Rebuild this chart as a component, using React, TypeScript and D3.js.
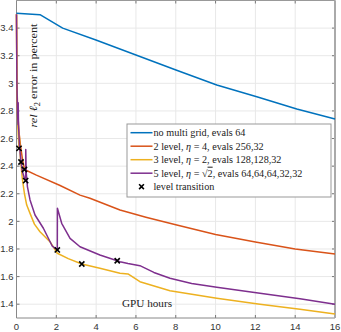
import * as d3 from "d3";

// GPU hours vs rel l2 error
const noMgX = [0, 1.18, 2.32, 3.99, 6.0, 8.01, 10.06, 12.07, 14.08, 16];
const noMgY = [3.507, 3.497, 3.4, 3.314, 3.205, 3.097, 2.988, 2.903, 2.814, 2.741];

const lvl2X = [0, 0.02, 0.06, 0.12, 0.2, 0.3, 0.4, 1.0, 2.19, 3.19, 3.69, 5.2, 6.5, 8, 10, 12, 14, 16];
const lvl2Y = [3.5, 3.0, 2.8, 2.65, 2.55, 2.45, 2.376, 2.335, 2.26, 2.19, 2.167, 2.082, 2.03, 1.975, 1.905, 1.85, 1.8, 1.763];

const lvl3X = [0, 0.02, 0.05, 0.09, 0.126, 0.13, 0.2, 0.3, 0.4, 0.51, 0.68, 0.9, 1.18, 1.68, 2.05, 2.6, 3.28, 4.19, 5.2, 5.6, 6.2, 7.71, 10.06, 12.23, 14.24, 16];
const lvl3Y = [3.5, 3.0, 2.75, 2.62, 2.529, 2.65, 2.45, 2.3, 2.2, 2.12, 2.058, 1.98, 1.925, 1.853, 1.769, 1.73, 1.691, 1.66, 1.624, 1.619, 1.563, 1.498, 1.443, 1.399, 1.363, 1.329];

const lvl5X = [0, 0.02, 0.05, 0.08, 0.085, 0.1, 0.15, 0.226, 0.3, 0.4, 0.46, 0.465, 0.49, 0.55, 0.68, 0.93, 1.35, 1.8, 2.05, 2.055, 2.27, 2.69, 3.19, 4.19, 5.06, 5.2, 5.6, 6.2, 6.9, 7.71, 8.8, 10.06, 12.23, 14.24, 16];
const lvl5Y = [3.5, 3.0, 2.78, 2.7, 2.86, 2.7, 2.55, 2.43, 2.36, 2.31, 2.295, 2.52, 2.35, 2.25, 2.155, 2.046, 1.95, 1.82, 1.793, 2.095, 1.986, 1.877, 1.816, 1.756, 1.715, 1.708, 1.695, 1.679, 1.63, 1.588, 1.55, 1.522, 1.479, 1.44, 1.4];

const transX = [0.126, 0.226, 0.4, 0.46, 2.05, 3.28, 5.06];
const transY = [2.529, 2.43, 2.376, 2.295, 1.793, 1.691, 1.715];

const xTicks = [0, 2, 4, 6, 8, 10, 12, 14, 16];
const yTicks = [1.4, 1.6, 1.8, 2, 2.2, 2.4, 2.6, 2.8, 3, 3.2, 3.4];

const legendLabels = [
  "no multi grid, evals 64",
  "2 level, η = 4, evals 256,32",
  "3 level, η = 2, evals 128,128,32",
  "5 level, η = √2, evals 64,64,64,32,32",
  "level transition",
];

const colors = ["#0072BD", "#D95319", "#EDB120", "#7E2F8E"];

export default function App() {
  const W = 341;
  const H = 332;
  const left = 16.5;
  const right = 335;
  const top = 0.5;
  const bottom = 318;

  const x = d3.scaleLinear().domain([0, 16]).range([left, right]);
  const y = d3.scaleLinear().domain([1.3, 3.6]).range([bottom, top]);

  const line = d3
    .line<[number, number]>()
    .x((d) => x(d[0]))
    .y((d) => y(d[1]));

  const series = [
    [noMgX, noMgY],
    [lvl2X, lvl2Y],
    [lvl3X, lvl3Y],
    [lvl5X, lvl5Y],
  ].map(([xs, ys]) => xs.map((v, i) => [v, ys[i]] as [number, number]));

  const tickFont = { fontFamily: "Liberation Sans, Arial, sans-serif", fontSize: 9.5, fill: "#333" };
  const serif = "Liberation Serif, Times New Roman, serif";

  const cross = (cx: number, cy: number, r: number, key: any) => (
    <path
      key={key}
      d={`M${cx - r},${cy - r}L${cx + r},${cy + r}M${cx - r},${cy + r}L${cx + r},${cy - r}`}
      stroke="#000"
      strokeWidth={1.6}
    />
  );

  const legX = 127;
  const legY = 124;
  const legRowY = (i: number) => 132.7 + i * 13.5;

  return (
    <svg width={W} height={H} style={{ position: "absolute", left: 0, top: 0, background: "#fff" }}>
      {/* grid */}
      {xTicks.map((t) => (
        <line key={"gx" + t} x1={x(t)} x2={x(t)} y1={top} y2={bottom} stroke="#e8e8e8" strokeWidth={1} />
      ))}
      {yTicks.map((t) => (
        <line key={"gy" + t} x1={left} x2={right} y1={y(t)} y2={y(t)} stroke="#e8e8e8" strokeWidth={1} />
      ))}
      {/* ticks */}
      {xTicks.map((t) => (
        <g key={"tx" + t}>
          <line x1={x(t)} x2={x(t)} y1={bottom} y2={bottom - 3} stroke="#777" />
          <line x1={x(t)} x2={x(t)} y1={top} y2={top + 3} stroke="#777" />
          <text x={x(t)} y={330} textAnchor="middle" {...tickFont}>
            {t}
          </text>
        </g>
      ))}
      {yTicks.map((t) => (
        <g key={"ty" + t}>
          <line x1={left} x2={left + 3} y1={y(t)} y2={y(t)} stroke="#777" />
          <line x1={right} x2={right - 3} y1={y(t)} y2={y(t)} stroke="#777" />
          <text x={13.5} y={y(t) + 3.3} textAnchor="end" {...tickFont}>
            {String(+t.toFixed(1))}
          </text>
        </g>
      ))}
      {/* box */}
      <line x1={left} x2={left} y1={top} y2={bottom} stroke="#888" strokeWidth={1} />
      <line x1={left} x2={right} y1={bottom} y2={bottom} stroke="#888" strokeWidth={1} />
      <line x1={left} x2={right} y1={top} y2={top} stroke="#999" strokeWidth={1} />
      <line x1={right} x2={right} y1={top} y2={bottom} stroke="#aaa" strokeWidth={2} />

      {/* axis labels */}
      <text
        transform="translate(37,75.5) rotate(-90)"
        textAnchor="middle"
        fontFamily={serif}
        fontSize={11}
        fill="#222"
        textLength={104}
        lengthAdjust="spacingAndGlyphs"
      >
        <tspan fontStyle="italic">rel ℓ</tspan>
        <tspan fontSize={7.5} dy={2.5}>2</tspan>
        <tspan dy={-2.5}> error in percent</tspan>
      </text>
      <text x={122} y={307} fontFamily={serif} fontSize={11} fill="#222" textLength={50} lengthAdjust="spacingAndGlyphs">
        GPU hours
      </text>

      {/* curves */}
      {series.map((s, i) => (
        <path key={"s" + i} d={line(s) ?? ""} fill="none" stroke={colors[i]} strokeWidth={1.5} strokeLinejoin="round" />
      ))}
      {transX.map((v, i) => cross(x(v), y(transY[i]), 2.6, "m" + i))}

      {/* legend */}
      <rect x={legX} y={legY} width={204} height={73} fill="#fff" stroke="#999" strokeWidth={1} />
      {legendLabels.map((lab, i) => (
        <g key={"l" + i}>
          {i < 4 ? (
            <line x1={130.5} x2={152.5} y1={legRowY(i)} y2={legRowY(i)} stroke={colors[i]} strokeWidth={1.5} />
          ) : (
            cross(141.5, legRowY(i), 2.4, "lx")
          )}
          <text x={153.5} y={legRowY(i) + 3.5} fontFamily={serif} fontSize={10.2} fill="#222">
            {i === 1 ? (
              <>
                2 level, <tspan fontStyle="italic">η</tspan> = 4, evals 256,32
              </>
            ) : i === 2 ? (
              <>
                3 level, <tspan fontStyle="italic">η</tspan> = 2, evals 128,128,32
              </>
            ) : i === 3 ? (
              <>
                5 level, <tspan fontStyle="italic">η</tspan> = √<tspan textDecoration="overline">2</tspan>, evals
                64,64,64,32,32
              </>
            ) : (
              lab
            )}
          </text>
        </g>
      ))}
    </svg>
  );
}
